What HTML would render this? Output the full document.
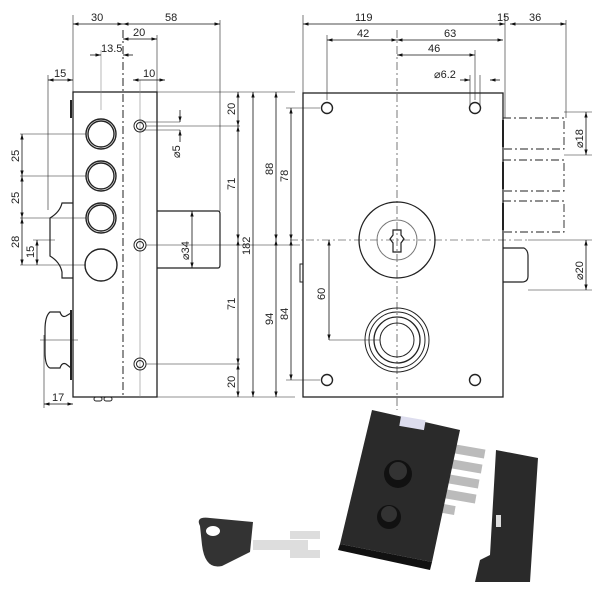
<!DOCTYPE html>
<html><head><style>body{margin:0;background:#fff}svg{display:block}text{font-family:"Liberation Sans",sans-serif;font-size:11px;fill:#222}</style></head>
<body>
<svg width="600" height="600" viewBox="0 0 600 600" xmlns="http://www.w3.org/2000/svg">
<defs>
<marker id="a" viewBox="0 0 10 10" refX="10" refY="5" markerWidth="7" markerHeight="7" orient="auto-start-reverse"><path d="M0,2L10,5L0,8z" fill="#111"/></marker>
</defs>
<g stroke="#222" fill="none" stroke-width="1">
<rect x="73" y="92" width="84" height="305" stroke-width="1.3"/>
<line x1="123" y1="30" x2="123" y2="397" stroke-dasharray="8,3,2,3"/>
<line x1="140" y1="80" x2="140" y2="397" stroke="#888" stroke-width="0.6"/>
<line x1="101" y1="50" x2="101" y2="110" stroke="#888" stroke-width="0.6"/>
<line x1="73" y1="15" x2="73" y2="92" stroke-width="0.6"/>
<line x1="220" y1="20" x2="220" y2="211" stroke-width="0.6"/>
<line x1="157" y1="35" x2="157" y2="92" stroke-width="0.6"/>
<line x1="48" y1="75" x2="48" y2="210" stroke-width="0.6"/>
<g stroke-width="1.4"><circle cx="101" cy="134" r="15"/><circle cx="101" cy="134" r="13"/>
<circle cx="101" cy="176" r="15"/><circle cx="101" cy="176" r="13"/>
<circle cx="101" cy="218" r="15"/><circle cx="101" cy="218" r="13"/>
<circle cx="101" cy="265" r="16"/></g>
<circle cx="140" cy="126" r="6"/><circle cx="140" cy="126" r="3.5"/>
<circle cx="140" cy="245" r="6"/><circle cx="140" cy="245" r="3.5"/>
<circle cx="140" cy="364" r="6"/><circle cx="140" cy="364" r="3.5"/>
<path d="M157,211H218Q220,211 220,214V265Q220,268 218,268H157" stroke-width="1.2"/>
<path d="M73,203H62Q60,212 50,218V256Q60,262 62,272V278H73" stroke-width="1.2"/>
<path d="M71,313L66,316Q62,318 60,312H50Q45,316 45,330V352Q45,366 50,368H60Q62,362 66,364L71,368" stroke-width="1.2"/>
<line x1="71" y1="310" x2="71" y2="380" stroke-width="2"/>
<line x1="71" y1="100" x2="71" y2="118" stroke-width="2"/>
<rect x="94" y="397" width="8" height="4" rx="2"/><rect x="104" y="397" width="8" height="4" rx="2"/>
<g stroke-width="0.6">
<line x1="20" y1="134" x2="86" y2="134"/><line x1="20" y1="176" x2="86" y2="176"/><line x1="20" y1="218" x2="86" y2="218"/><line x1="20" y1="265" x2="86" y2="265"/><line x1="33" y1="240" x2="55" y2="240"/>
<line x1="146" y1="126" x2="240" y2="126"/><line x1="146" y1="364" x2="240" y2="364"/><line x1="157" y1="92" x2="295" y2="92"/><line x1="157" y1="397" x2="295" y2="397"/><line x1="146" y1="245" x2="300" y2="245"/>
<line x1="140" y1="122" x2="180" y2="122"/><line x1="140" y1="130" x2="180" y2="130"/>
<line x1="44" y1="335" x2="44" y2="408"/><line x1="40" y1="340" x2="78" y2="340"/>
</g>
</g>
<g stroke="#111" stroke-width="0.8" fill="none" marker-start="url(#a)" marker-end="url(#a)">
<line x1="73" y1="24" x2="123" y2="24"/><line x1="123" y1="24" x2="220" y2="24"/>
<line x1="123" y1="39" x2="157" y2="39"/>
<line x1="133" y1="80" x2="165" y2="80"/>
<line x1="48" y1="80" x2="73" y2="80"/>
<line x1="22" y1="134" x2="22" y2="176"/><line x1="22" y1="176" x2="22" y2="218"/><line x1="22" y1="218" x2="22" y2="265"/>
<line x1="37" y1="240" x2="37" y2="265"/>
<line x1="238" y1="92" x2="238" y2="126"/><line x1="238" y1="126" x2="238" y2="240"/><line x1="238" y1="240" x2="238" y2="364"/><line x1="238" y1="364" x2="238" y2="397"/>
<line x1="253" y1="92" x2="253" y2="397"/>
<line x1="276" y1="92" x2="276" y2="240"/><line x1="276" y1="240" x2="276" y2="397"/>
<line x1="291" y1="108" x2="291" y2="240"/><line x1="291" y1="240" x2="291" y2="380"/>
<line x1="192" y1="211" x2="192" y2="268"/>
<line x1="44" y1="404" x2="73" y2="404"/>
<line x1="303" y1="24" x2="505" y2="24"/><line x1="510" y1="24" x2="566" y2="24"/>
<line x1="327" y1="40" x2="397" y2="40"/><line x1="397" y1="40" x2="503" y2="40"/>
<line x1="397" y1="55" x2="475" y2="55"/>
<line x1="329" y1="240" x2="329" y2="340"/>
<line x1="586" y1="112" x2="586" y2="155"/><line x1="586" y1="240" x2="586" y2="290"/>
</g>
<g stroke="#111" stroke-width="0.8" marker-end="url(#a)">
<line x1="90" y1="55" x2="101" y2="55"/><line x1="133" y1="55" x2="123" y2="55"/>
<line x1="180" y1="110" x2="180" y2="122"/><line x1="180" y1="142" x2="180" y2="130"/>
<line x1="460" y1="80" x2="470" y2="80"/><line x1="500" y1="80" x2="490" y2="80"/>
</g>
<g stroke="#222" fill="none">
<rect x="303" y="93" width="200" height="304" stroke-width="1.3"/>
<line x1="397" y1="30" x2="397" y2="410" stroke-dasharray="8,3,2,3" stroke-width="0.6"/>
<line x1="290" y1="240" x2="530" y2="240" stroke-dasharray="8,3,2,3" stroke-width="0.6"/>
<circle cx="397" cy="240" r="38" stroke-width="1.3"/><circle cx="397" cy="240" r="20" stroke="#777"/>
<path d="M393,230h8v5l3,4-3,4v9h-8v-9l-3-4 3-4z" stroke-width="1.2"/>
<circle cx="397" cy="340" r="32"/><circle cx="397" cy="340" r="28"/><circle cx="397" cy="340" r="23" stroke-width="1.3"/><circle cx="397" cy="340" r="17"/>
<line x1="329" y1="340" x2="380" y2="340" stroke-width="0.6"/>
<g stroke-width="1.4"><circle cx="327" cy="108" r="5.5"/><circle cx="475" cy="108" r="5.5"/><circle cx="327" cy="380" r="5.5"/><circle cx="475" cy="380" r="5.5"/></g>
<g stroke-dasharray="8,3,2,3" stroke-width="0.9">
<path d="M503,118H564V149H503"/><path d="M503,160H564V191H503"/><path d="M503,201H564V232H503"/>
</g>
<line x1="503" y1="120" x2="503" y2="147" stroke-width="2"/><line x1="503" y1="162" x2="503" y2="189" stroke-width="2"/><line x1="503" y1="203" x2="503" y2="230" stroke-width="2"/>
<path d="M503,248H524Q528,250 528,256V276Q528,282 522,282H503" stroke-width="1.2"/>
<rect x="300" y="264" width="3" height="18"/>
<g stroke-width="0.6">
<line x1="303" y1="15" x2="303" y2="93"/><line x1="505" y1="15" x2="505" y2="118"/><line x1="566" y1="20" x2="566" y2="118"/>
<line x1="327" y1="35" x2="327" y2="100"/><line x1="475" y1="50" x2="475" y2="100"/><line x1="470" y1="75" x2="470" y2="105"/><line x1="480" y1="75" x2="480" y2="105"/>
<line x1="286" y1="108" x2="320" y2="108"/><line x1="286" y1="380" x2="320" y2="380"/>
<line x1="564" y1="112" x2="592" y2="112"/><line x1="564" y1="155" x2="592" y2="155"/><line x1="528" y1="240" x2="592" y2="240"/><line x1="528" y1="290" x2="592" y2="290"/>
</g>
</g>
<g>
<text x="91" y="21">30</text><text x="165" y="21">58</text><text x="133" y="36">20</text><text x="101" y="52" font-size="10">13.5</text><text x="143" y="77">10</text><text x="54" y="77">15</text><text x="52" y="401">17</text>
<text x="355" y="21">119</text><text x="497" y="21" font-size="10">15</text><text x="529" y="21">36</text><text x="357" y="37">42</text><text x="444" y="37">63</text><text x="428" y="52">46</text><text x="434" y="78">⌀6.2</text>
</g>
<g>
<text transform="translate(19,162) rotate(-90)">25</text><text transform="translate(19,204) rotate(-90)">25</text><text transform="translate(19,248) rotate(-90)">28</text><text transform="translate(34,258) rotate(-90)">15</text>
<text transform="translate(235,115) rotate(-90)">20</text><text transform="translate(235,190) rotate(-90)">71</text><text transform="translate(235,310) rotate(-90)">71</text><text transform="translate(235,388) rotate(-90)">20</text>
<text transform="translate(250,255) rotate(-90)">182</text><text transform="translate(273,175) rotate(-90)">88</text><text transform="translate(273,325) rotate(-90)">94</text>
<text transform="translate(288,182) rotate(-90)">78</text><text transform="translate(288,320) rotate(-90)">84</text>
<text transform="translate(180,158) rotate(-90)">⌀5</text><text transform="translate(189,260) rotate(-90)">⌀34</text>
<text transform="translate(325,300) rotate(-90)">60</text>
<text transform="translate(583,148) rotate(-90)">⌀18</text><text transform="translate(583,280) rotate(-90)">⌀20</text>
</g>
<g>
<g fill="#bbb"><rect x="455" y="447" width="30" height="9" transform="rotate(10 470 451)"/><rect x="452" y="462" width="30" height="9" transform="rotate(10 467 466)"/><rect x="449" y="477" width="30" height="9" transform="rotate(10 464 481)"/><rect x="446" y="492" width="30" height="9" transform="rotate(10 461 496)"/><rect x="443" y="505" width="12" height="9" transform="rotate(10 449 509)"/></g>
<path d="M372,410L460,430L432,562L340,544Z" fill="#2a2a2a"/>
<path d="M340,544L432,562L430,570L338,550Z" fill="#111"/>
<rect x="400" y="418" width="25" height="10" fill="#dde" transform="rotate(10 412 423)"/>
<circle cx="398" cy="474" r="14" fill="#111"/><circle cx="398" cy="471" r="9" fill="#333"/>
<circle cx="389" cy="517" r="12" fill="#111"/><circle cx="389" cy="514" r="8" fill="#333"/>
<path d="M496,450L538,458L530,582L475,582L480,560L490,555Z" fill="#2a2a2a"/>
<rect x="496" y="515" width="5" height="12" fill="#ddd"/>
<path d="M200,526Q195,516 210,518L253,522L250,552L222,566Q205,570 202,545Z" fill="#333"/>
<ellipse cx="213" cy="531" rx="7" ry="5" fill="#fff"/>
<rect x="253" y="540" width="55" height="10" fill="#ddd"/><rect x="290" y="531" width="30" height="8" fill="#ddd"/><rect x="290" y="550" width="30" height="8" fill="#ddd"/>
</g>
</svg>
</body></html>
